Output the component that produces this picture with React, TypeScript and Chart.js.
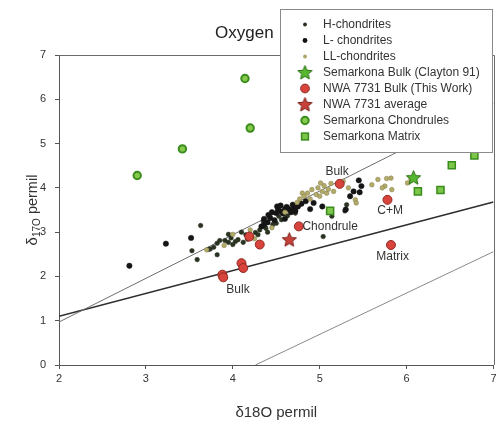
import { useEffect, useRef } from "react";
import { Chart, registerables } from "chart.js";
Chart.register(...registerables);

const FONT = "'Liberation Sans', Arial, Helvetica, sans-serif";

// ---- data (δ18O, δ17O) ----
const hChondrites: [number, number][] = [
  [3.63, 3.15], [3.53, 2.58], [3.59, 2.38], [3.72, 2.61], [3.82, 2.49], [3.74, 2.62], [3.78, 2.66],
  [3.82, 2.75], [3.85, 2.81], [3.91, 2.81], [3.95, 2.77], [3.98, 2.87], [4.0, 2.72], [4.03, 2.79],
  [4.06, 2.83], [4.12, 2.77], [4.15, 2.94], [4.17, 2.84], [4.21, 2.9], [4.26, 2.99], [4.29, 2.94],
  [4.31, 3.05], [4.38, 3.09], [4.46, 3.17], [4.56, 3.28], [4.53, 3.36], [4.63, 3.37], [4.72, 3.43],
  [5.04, 2.9], [5.14, 3.36], [5.29, 3.48], [5.31, 3.62], [4.4, 3.0], [4.35, 3.25], [4.5, 3.2],
  [3.95, 2.95], [4.1, 3.0],
];
const lChondrites: [number, number][] = [
  [2.81, 2.24], [3.23, 2.74], [3.52, 2.87], [4.33, 3.13], [4.36, 3.17], [4.4, 3.22], [4.41, 3.39],
  [4.43, 3.32], [4.48, 3.27], [4.5, 3.43], [4.51, 3.58], [4.52, 3.51], [4.55, 3.47], [4.58, 3.42],
  [4.6, 3.52], [4.62, 3.57], [4.65, 3.51], [4.67, 3.45], [4.69, 3.62], [4.7, 3.55], [4.75, 3.58],
  [4.79, 3.64], [4.84, 3.7], [4.93, 3.66], [5.03, 3.58], [5.35, 3.81], [5.39, 3.92], [5.46, 3.9],
  [5.48, 4.04], [5.45, 4.17], [5.3, 3.51], [4.45, 3.45], [4.55, 3.6], [4.6, 3.3], [4.72, 3.48],
  [4.36, 3.3], [4.89, 3.52],
];
const llChondrites: [number, number][] = [
  [4.74, 3.67], [4.77, 3.75], [4.8, 3.88], [4.82, 3.81], [4.86, 3.88], [4.89, 3.75], [4.91, 3.96],
  [4.96, 3.85], [4.98, 4.0], [5.0, 3.81], [5.03, 3.92], [5.05, 4.05], [5.08, 3.88], [5.1, 3.97],
  [5.13, 4.1], [5.16, 3.92], [5.01, 4.11], [5.27, 4.15], [5.33, 4.0], [5.41, 3.73], [5.42, 3.66],
  [5.6, 4.07], [5.67, 4.19], [5.75, 4.04], [5.82, 4.22], [5.83, 3.96], [5.72, 4.0], [6.01, 4.11],
  [6.05, 4.19], [5.77, 4.21], [4.2, 3.05], [4.0, 2.95], [3.9, 2.7], [4.45, 3.1], [4.6, 3.45],
  [3.7, 2.6], [4.25, 2.85],
];
const semarkonaBulk: [number, number][] = [[6.08, 4.23]];
const nwaBulk: [number, number][] = [
  [3.88, 2.04], [3.89, 1.98], [4.1, 2.3], [4.12, 2.19], [4.19, 2.9], [4.31, 2.72],
  [4.76, 3.13], [5.23, 4.09], [5.78, 3.73], [5.82, 2.71],
];
const nwaAverage: [number, number][] = [[4.65, 2.83]];
const semarkonaChondrules: [number, number][] = [[2.9, 4.28], [3.42, 4.88], [4.14, 6.47], [4.2, 5.35]];
const semarkonaMatrix: [number, number][] = [[5.12, 3.48], [6.13, 3.92], [6.39, 3.95], [6.52, 4.51], [6.78, 4.73]];

// reference lines
const upperLine: [number, number][] = [[2, 0.97], [7, 5.9]];
const tflLine: [number, number][] = [[2, 1.1], [7, 3.68]];
const lowerLine: [number, number][] = [[4.26, 0], [7, 2.56]];

// point labels
const annotationText = ["Bulk", "C+M", "Chondrule", "Matrix", "Bulk"];
const annotationX = [5.2, 5.81, 5.12, 5.84, 4.06];
const annotationY = [4.37, 3.48, 3.12, 2.45, 1.71];

const xTicks = [2, 3, 4, 5, 6, 7];
const yTicks = [0, 1, 2, 3, 4, 5, 6, 7];

const toXY = (a: [number, number][]) => a.map(([x, y]) => ({ x, y }));

function makeStar(outer: number, fill: string, stroke: string): HTMLCanvasElement {
  const size = Math.ceil(outer * 2 + 4);
  const c = document.createElement("canvas");
  c.width = size;
  c.height = size;
  const ctx = c.getContext("2d")!;
  const cx = size / 2, cy = size / 2 + 0.5, inner = outer * 0.45;
  ctx.beginPath();
  for (let i = 0; i < 10; i++) {
    const r = i % 2 === 0 ? outer : inner;
    const a = -Math.PI / 2 + (i * Math.PI) / 5;
    const px = cx + r * Math.cos(a), py = cy + r * Math.sin(a);
    if (i === 0) ctx.moveTo(px, py);
    else ctx.lineTo(px, py);
  }
  ctx.closePath();
  ctx.fillStyle = fill;
  ctx.fill();
  ctx.lineWidth = 1;
  ctx.strokeStyle = stroke;
  ctx.stroke();
  return c;
}

export default function App() {
  const ref = useRef<HTMLCanvasElement>(null);

  useEffect(() => {
    const greenStar = makeStar(7.5, "#56b82f", "#2c6e16");
    const redStar = makeStar(7.5, "#c8403a", "#7a221c");

    const legendItems = [
      { label: "H-chondrites", kind: "circle", r: 1.9, fill: "#26301f", stroke: "#26301f", bw: 0 },
      { label: "L- chondrites", kind: "circle", r: 2.4, fill: "#111", stroke: "#111", bw: 0 },
      { label: "LL-chondrites", kind: "circle", r: 1.9, fill: "#aca466", stroke: "#aca466", bw: 0 },
      { label: "Semarkona Bulk (Clayton 91)", kind: "img", img: greenStar },
      { label: "NWA 7731 Bulk (This Work)", kind: "circle", r: 4.4, fill: "#d8433c", stroke: "#8e2a23", bw: 1 },
      { label: "NWA 7731 average", kind: "img", img: redStar },
      { label: "Semarkona Chondrules", kind: "circle", r: 3.7, fill: "#86c94c", stroke: "#3a8c1c", bw: 2 },
      { label: "Semarkona Matrix", kind: "rect", r: 3.4, fill: "#7cc64a", stroke: "#3a8c1c", bw: 1.5 },
    ];

    const overlay = {
      id: "overlay",
      afterDraw(chart: any) {
        const { ctx, chartArea: a, scales } = chart;
        ctx.save();
        ctx.strokeStyle = "#6b6b6b";
        ctx.lineWidth = 1;
        ctx.beginPath();
        ctx.moveTo(a.left, Math.round(a.top) + 0.5);
        ctx.lineTo(Math.round(a.right) + 0.5, Math.round(a.top) + 0.5);
        ctx.lineTo(Math.round(a.right) + 0.5, a.bottom);
        ctx.stroke();

        ctx.fillStyle = "#333";
        ctx.font = `12px ${FONT}`;
        ctx.textAlign = "center";
        ctx.textBaseline = "middle";
        annotationText.forEach((t, i) => {
          ctx.fillText(t, scales.x.getPixelForValue(annotationX[i]), scales.y.getPixelForValue(annotationY[i]));
        });

        ctx.font = `17px ${FONT}`;
        ctx.textAlign = "left";
        ctx.textBaseline = "alphabetic";
        ctx.fillStyle = "#222";
        ctx.fillText("Oxygen", 215, 38);

        ctx.font = `15px ${FONT}`;
        ctx.textAlign = "center";
        ctx.textBaseline = "middle";
        ctx.fillStyle = "#333";
        ctx.fillText("δ18O permil", (a.left + a.right) / 2, 413);

        ctx.save();
        const cy = (a.top + a.bottom) / 2;
        ctx.translate(34, cy);
        ctx.rotate(-Math.PI / 2);
        ctx.textAlign = "left";
        ctx.textBaseline = "middle";
        const f1 = `15px ${FONT}`, f2 = `10px ${FONT}`, f3 = `14.5px ${FONT}`;
        ctx.font = f1; const w1 = ctx.measureText("δ").width;
        ctx.font = f2; const w2 = ctx.measureText("17O").width;
        ctx.font = f3; const w3 = ctx.measureText(" permil").width;
        let x0 = -(w1 + w2 + w3) / 2;
        ctx.font = f1; ctx.fillText("δ", x0, -1); x0 += w1;
        ctx.font = f2; ctx.fillText("17O", x0, 3.5); x0 += w2;
        ctx.font = f3; ctx.fillText(" permil", x0, -1);
        ctx.restore();

        const bx = 280.5, by = 9.5, bw = 212, bh = 143;
        ctx.fillStyle = "#fff";
        ctx.fillRect(bx, by, bw, bh);
        ctx.strokeStyle = "#8a8a8a";
        ctx.lineWidth = 1;
        ctx.strokeRect(bx, by, bw, bh);
        ctx.font = `12px ${FONT}`;
        ctx.textAlign = "left";
        ctx.textBaseline = "middle";
        legendItems.forEach((it: any, i) => {
          const yy = 24.5 + i * 16;
          const sx = 305;
          if (it.kind === "img") {
            ctx.drawImage(it.img, sx - it.img.width / 2, yy - it.img.height / 2);
          } else if (it.kind === "circle") {
            ctx.beginPath();
            ctx.arc(sx, yy, it.r, 0, Math.PI * 2);
            ctx.fillStyle = it.fill;
            ctx.fill();
            if (it.bw) { ctx.lineWidth = it.bw; ctx.strokeStyle = it.stroke; ctx.stroke(); }
          } else {
            ctx.fillStyle = it.fill;
            ctx.fillRect(sx - it.r, yy - it.r, it.r * 2, it.r * 2);
            ctx.lineWidth = it.bw; ctx.strokeStyle = it.stroke;
            ctx.strokeRect(sx - it.r, yy - it.r, it.r * 2, it.r * 2);
          }
          ctx.fillStyle = "#333";
          ctx.fillText(it.label, 323, yy);
        });
        ctx.restore();
      },
    };

    const lineDs = (pts: [number, number][], color: string, width: number) => ({
      type: "line" as const,
      data: toXY(pts),
      showLine: true,
      borderColor: color,
      borderWidth: width,
      pointRadius: 0,
      fill: false,
      order: 10,
    });

    const chart = new Chart(ref.current!, {
      type: "scatter",
      data: {
        datasets: [
          lineDs(upperLine, "#6e6e6e", 1),
          lineDs(tflLine, "#2e2e2e", 1.6),
          lineDs(lowerLine, "#8a8a8a", 1),
          { label: "H-chondrites", data: toXY(hChondrites), pointRadius: 2.3, backgroundColor: "#2a3322", borderColor: "#2a3322", borderWidth: 0.5, order: 6 },
          { label: "L- chondrites", data: toXY(lChondrites), pointRadius: 2.7, backgroundColor: "#151515", borderColor: "#151515", borderWidth: 0.5, order: 5 },
          { label: "LL-chondrites", data: toXY(llChondrites), pointRadius: 2.3, backgroundColor: "#b3ab6a", borderColor: "#8d8650", borderWidth: 0.6, order: 4 },
          { label: "Semarkona Matrix", data: toXY(semarkonaMatrix), pointStyle: "rect", pointRadius: 5, backgroundColor: "#7cc64a", borderColor: "#3a8c1c", borderWidth: 1.5, order: 3 },
          { label: "Semarkona Chondrules", data: toXY(semarkonaChondrules), pointRadius: 3.7, backgroundColor: "#86c94c", borderColor: "#3a8c1c", borderWidth: 2, order: 3 },
          { label: "NWA 7731 Bulk (This Work)", data: toXY(nwaBulk), pointRadius: 4.5, backgroundColor: "#d8433c", borderColor: "#8e2a23", borderWidth: 1, order: 2 },
          { label: "NWA 7731 average", data: toXY(nwaAverage), pointStyle: redStar, order: 1 },
          { label: "Semarkona Bulk (Clayton 91)", data: toXY(semarkonaBulk), pointStyle: greenStar, order: 1 },
        ] as any,
      },
      options: {
        animation: false,
        responsive: false,
        maintainAspectRatio: false,
        layout: { padding: { top: 55, right: 2, left: 0, bottom: 0 } },
        plugins: { legend: { display: false }, tooltip: { enabled: false }, title: { display: false } },
        scales: {
          x: {
            type: "linear",
            min: 2,
            max: 7,
            afterBuildTicks: (s: any) => { s.ticks = xTicks.map((v) => ({ value: v })); },
            ticks: { font: { size: 11, family: FONT }, color: "#333", padding: 3 },
            grid: { display: true, drawOnChartArea: false, drawTicks: true, tickLength: 4, color: "#555" },
            border: { display: true, color: "#555", width: 1 },
            afterFit: (s: any) => { s.height = 56; s.paddingLeft = 0; s.paddingRight = 0; },
          },
          y: {
            type: "linear",
            min: 0,
            max: 7,
            afterBuildTicks: (s: any) => { s.ticks = yTicks.map((v) => ({ value: v })); },
            ticks: { font: { size: 11, family: FONT }, color: "#333", padding: 9 },
            grid: { display: true, drawOnChartArea: false, drawTicks: true, tickLength: 4, color: "#555" },
            border: { display: true, color: "#555", width: 1 },
            afterFit: (s: any) => { s.width = 59; s.paddingTop = 0; s.paddingBottom = 0; },
          },
        },
      } as any,
      plugins: [overlay],
    });
    return () => chart.destroy();
  }, []);

  return (
    <div style={{ position: "fixed", left: 0, top: 0, width: 500, height: 421, background: "#fff" }}>
      <canvas ref={ref} width={500} height={421} style={{ width: 500, height: 421, display: "block" }} />
    </div>
  );
}
